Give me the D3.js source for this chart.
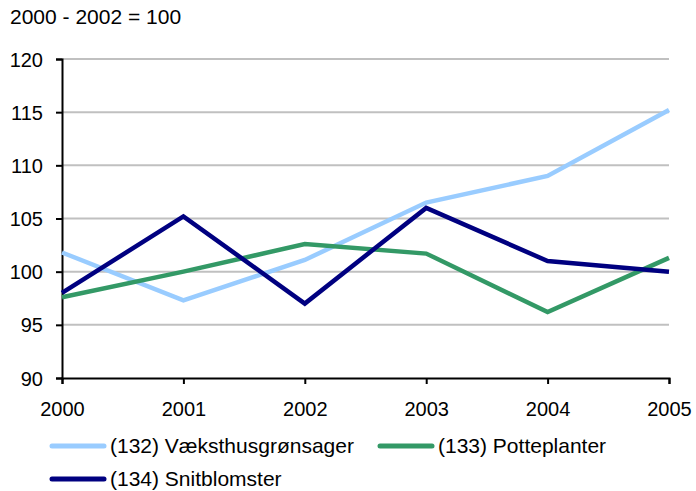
<!DOCTYPE html>
<html>
<head>
<meta charset="utf-8">
<script src="https://cdn.jsdelivr.net/npm/d3@7"></script>
<style>
  body { margin: 0; background: #fff; }
  text { font-family: "Liberation Sans", Arial, sans-serif; }
</style>
</head>
<body>
<div id="chart"></div>
<script>
// Data
const years = [2000, 2001, 2002, 2003, 2004, 2005];
const vaeksthus = [101.8, 97.3, 101.1, 106.5, 109.0, 115.2];
const potteplanter = [97.6, 100.0, 102.6, 101.7, 96.2, 101.3];
const snitblomster = [98.0, 105.2, 97.0, 106.0, 101.0, 100.0];
const yTicks = [90, 95, 100, 105, 110, 115, 120];

const series = [
    { name: "(132) Væksthusgrønsager", values: vaeksthus, color: "#99CCFF" },
    { name: "(133) Potteplanter", values: potteplanter, color: "#339966" },
    { name: "(134) Snitblomster", values: snitblomster, color: "#000080" }
];

const width = 696, height = 491;
const margin = { top: 59, right: 27, bottom: 113, left: 62 };

const svg = d3.select("#chart")
    .append("svg")
    .attr("width", width)
    .attr("height", height);

const x = d3.scaleLinear()
    .domain([2000, 2005])
    .range([margin.left, width - margin.right]);

const y = d3.scaleLinear()
    .domain([90, 120])
    .range([height - margin.bottom, margin.top]);

// Unit label
svg.append("text")
    .attr("x", 10)
    .attr("y", 24)
    .text("2000 - 2002 = 100")
    .style("font-size", "21px");

// Gridlines
svg.append("g")
    .selectAll("line")
    .data(yTicks.filter(d => d > 90))
    .join("line")
    .attr("x1", margin.left)
    .attr("x2", width - margin.right)
    .attr("y1", d => y(d))
    .attr("y2", d => y(d))
    .attr("stroke", "#C0C0C0")
    .attr("stroke-width", 2);

// Y axis
const yAxis = svg.append("g")
    .attr("transform", `translate(${margin.left},0)`)
    .call(d3.axisLeft(y).tickValues(yTicks).tickSize(6).tickPadding(13));

// X axis
const xAxis = svg.append("g")
    .attr("transform", `translate(0,${height - margin.bottom})`)
    .call(d3.axisBottom(x).tickValues(years).tickFormat(d3.format("d")).tickSize(6).tickPadding(18));

[yAxis, xAxis].forEach(a => {
    a.select(".domain").attr("stroke", "#000").attr("stroke-width", 2);
    a.selectAll(".tick line").attr("stroke", "#000").attr("stroke-width", 2);
    a.selectAll("text")
        .style("font-size", "20px")
        .style("font-family", "'Liberation Sans', Arial, sans-serif")
        .attr("fill", "#000");
});
yAxis.selectAll("text").attr("dy", "0.35em");

// Lines
const line = d3.line()
    .x((d, i) => x(years[i]))
    .y(d => y(d));

svg.append("g")
    .selectAll("path")
    .data(series)
    .join("path")
    .attr("d", d => line(d.values))
    .attr("fill", "none")
    .attr("stroke", d => d.color)
    .attr("stroke-width", 4.5)
    .attr("stroke-linejoin", "miter");

// Legend
const legendPos = [[50, 446], [378, 446], [50, 479]];
const legend = svg.append("g")
    .selectAll("g")
    .data(series)
    .join("g")
    .attr("transform", (d, i) => `translate(${legendPos[i][0]},${legendPos[i][1]})`);

legend.append("line")
    .attr("x1", 2)
    .attr("x2", 54)
    .attr("stroke", d => d.color)
    .attr("stroke-width", 5)
    .attr("stroke-linecap", "round");

legend.append("text")
    .attr("x", 60)
    .attr("y", 7)
    .text(d => d.name)
    .style("font-size", "21px");
</script>
</body>
</html>
